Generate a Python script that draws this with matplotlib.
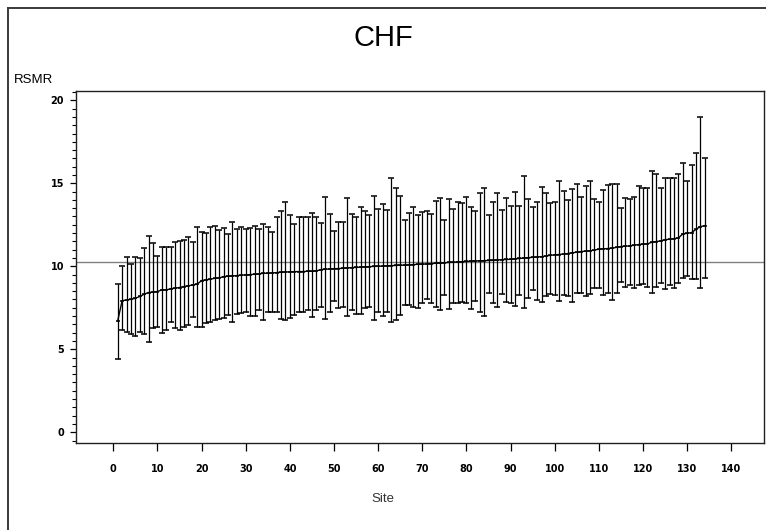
import matplotlib
matplotlib.use("Agg")
import matplotlib.pyplot as plt
from matplotlib.lines import Line2D
from matplotlib.ticker import MultipleLocator
import numpy as np

title = "CHF"
x_label = "Site"
y_label = "RSMR"
reference_value = 10.25

site_mean = [
    6.71, 7.93, 7.97, 8.01, 8.07, 8.18, 8.32, 8.42, 8.44, 8.48,
    8.58, 8.58, 8.64, 8.68, 8.72, 8.78, 8.82, 8.88, 8.92, 9.14,
    9.18, 9.22, 9.28, 9.30, 9.38, 9.40, 9.42, 9.44, 9.46, 9.48,
    9.50, 9.52, 9.54, 9.58, 9.58, 9.60, 9.62, 9.64, 9.66, 9.66,
    9.68, 9.68, 9.68, 9.70, 9.70, 9.72, 9.80, 9.82, 9.84, 9.86,
    9.86, 9.88, 9.90, 9.92, 9.93, 9.95, 9.96, 9.98, 9.99, 10.00,
    10.01, 10.03, 10.04, 10.05, 10.06, 10.07, 10.09, 10.10, 10.12, 10.13,
    10.14, 10.16, 10.18, 10.20, 10.21, 10.23, 10.24, 10.26, 10.28, 10.29,
    10.31, 10.32, 10.33, 10.34, 10.35, 10.36, 10.38, 10.40, 10.41, 10.42,
    10.45, 10.47, 10.50, 10.52, 10.54, 10.56, 10.58, 10.62, 10.66, 10.69,
    10.71, 10.74, 10.77, 10.81, 10.85, 10.89, 10.91, 10.93, 10.98, 11.03,
    11.05, 11.07, 11.09, 11.14, 11.19, 11.21, 11.23, 11.27, 11.31, 11.33,
    11.35, 11.45, 11.49, 11.53, 11.60, 11.63, 11.67, 11.70, 11.95, 11.99,
    12.03, 12.23, 12.39, 12.45,
]

site_upper = [
    8.92, 10.02, 10.58, 10.12, 10.58, 10.48, 11.13, 11.83, 11.39, 10.64,
    11.15, 11.19, 11.19, 11.49, 11.55, 11.59, 11.75, 11.45, 12.39, 12.07,
    11.99, 12.39, 12.45, 12.19, 12.29, 11.95, 12.69, 12.25, 12.39, 12.25,
    12.29, 12.45, 12.25, 12.55, 12.39, 12.07, 12.99, 13.36, 13.88, 13.09,
    12.53, 12.99, 12.95, 12.95, 13.23, 12.99, 12.59, 14.20, 13.15, 12.15,
    12.69, 12.65, 14.10, 13.15, 12.99, 13.56, 13.36, 13.09, 14.26, 13.46,
    13.76, 13.40, 15.30, 14.70, 14.26, 12.79, 13.19, 13.56, 13.09, 13.25,
    13.36, 13.15, 13.96, 14.10, 12.79, 14.04, 13.44, 13.86, 13.80, 14.20,
    13.56, 13.36, 14.44, 14.74, 13.09, 13.86, 14.44, 13.40, 14.10, 13.64,
    14.50, 13.64, 15.44, 14.04, 13.56, 13.88, 14.80, 14.44, 13.80, 13.88,
    15.14, 14.54, 14.00, 14.64, 14.96, 14.20, 14.84, 15.14, 14.04, 13.90,
    14.60, 14.90, 14.96, 14.96, 13.50, 14.10, 14.04, 14.20, 14.84, 14.70,
    14.74, 15.77, 15.54, 14.74, 15.30, 15.30, 15.30, 15.54, 16.21, 15.16,
    16.11, 16.81, 18.98, 16.51,
]

site_lower = [
    4.44, 6.17, 6.07, 5.93, 5.77, 6.07, 5.93, 5.42, 6.27, 6.37,
    5.97, 6.17, 6.67, 6.27, 6.17, 6.37, 6.47, 6.97, 6.37, 6.37,
    6.57, 6.67, 6.77, 6.81, 6.87, 7.05, 6.63, 7.13, 7.17, 7.27,
    7.01, 7.01, 7.37, 6.77, 7.27, 7.27, 7.27, 6.81, 6.77, 6.87,
    7.07, 7.27, 7.27, 7.37, 6.93, 7.37, 7.53, 6.83, 7.27, 7.93,
    7.47, 7.57, 7.03, 7.37, 7.13, 7.13, 7.47, 7.57, 6.77, 7.23,
    7.03, 7.27, 6.67, 6.77, 7.07, 7.67, 7.67, 7.57, 7.47, 7.81,
    8.01, 7.77, 7.57, 7.37, 8.28, 7.41, 7.81, 7.77, 7.87, 7.81,
    7.41, 7.93, 7.23, 7.01, 8.42, 7.81, 7.57, 8.34, 7.87, 7.81,
    7.63, 8.28, 7.47, 8.07, 8.58, 7.97, 7.87, 8.18, 8.34, 8.28,
    7.93, 8.28, 8.18, 7.83, 8.42, 8.38, 8.18, 8.34, 8.68, 8.72,
    8.28, 8.38, 7.97, 8.42, 9.08, 8.78, 8.88, 8.68, 8.88, 8.94,
    8.78, 8.38, 8.74, 8.98, 8.62, 8.88, 8.68, 8.98, 9.28, 9.44,
    9.24, 9.24, 8.68, 9.32,
]

x_ticks = list(range(0, 150, 10))
y_ticks = [0, 5, 10, 15, 20]

W, H = 766, 530
fig = plt.figure(figsize=(W / 100, H / 100), dpi=100)
fig.patch.set_facecolor("white")

# page border (left and top edges visible)
fig.add_artist(Line2D([7.5 / W, 7.5 / W], [0, 1 - 7.5 / H], transform=fig.transFigure,
                      color="#3a3a3a", lw=1.4))
fig.add_artist(Line2D([7.5 / W, 1], [1 - 7.5 / H, 1 - 7.5 / H], transform=fig.transFigure,
                      color="#3a3a3a", lw=1.4))

ax = fig.add_axes([76 / W, 1 - 442.7 / H, (764 - 76) / W, (442.7 - 90.7) / H])

sites = np.arange(1, len(site_mean) + 1)
mean = np.array(site_mean)
upper = np.array(site_upper)
lower = np.array(site_lower)

ax.axhline(reference_value, color="#808080", lw=1.0, zorder=1)

ax.vlines(sites, lower, upper, color="black", lw=0.9, zorder=3)
ax.plot(sites, upper, linestyle="none", marker="_", markersize=4.2,
        markeredgewidth=1.1, color="black", zorder=3)
ax.plot(sites, lower, linestyle="none", marker="_", markersize=4.2,
        markeredgewidth=1.1, color="black", zorder=3)
ax.plot(sites, mean, color="black", lw=1.0, zorder=4)
ax.plot(sites, mean, linestyle="none", marker="_", markersize=3.5,
        markeredgewidth=1.1, color="black", zorder=4)

ax.set_xlim(-8.45, 147.4)
ax.set_ylim(-0.63, 20.58)

ax.set_xticks(x_ticks)
ax.set_xticklabels([str(t) for t in x_ticks])
ax.set_yticks(y_ticks)
ax.set_yticklabels([str(t) for t in y_ticks])
ax.yaxis.set_minor_locator(MultipleLocator(0.5))

for lbl in ax.get_xticklabels() + ax.get_yticklabels():
    lbl.set_fontweight("bold")
    lbl.set_fontsize(7)
    lbl.set_family("DejaVu Sans")

ax.tick_params(axis="x", which="major", direction="out", length=5.5, width=0.9,
               pad=10, color="black")
ax.tick_params(axis="y", which="major", direction="out", length=4.5, width=0.9,
               pad=4, color="black")
ax.tick_params(axis="y", which="minor", direction="out", length=3, width=0.8,
               color="black")

for s in ax.spines.values():
    s.set_linewidth(1.0)
    s.set_color("#202020")

fig.text(383 / W, 1 - 38 / H, title, ha="center", va="center",
         fontsize=21, family="Liberation Sans")
fig.text(14 / W, 1 - 80 / H, y_label, ha="left", va="center",
         fontsize=9.5, family="Liberation Sans")
fig.text(383 / W, 1 - 499 / H, x_label, ha="center", va="center",
         fontsize=9.5, family="Liberation Sans", color="#333333")

fig.savefig("out.png", dpi=100)
